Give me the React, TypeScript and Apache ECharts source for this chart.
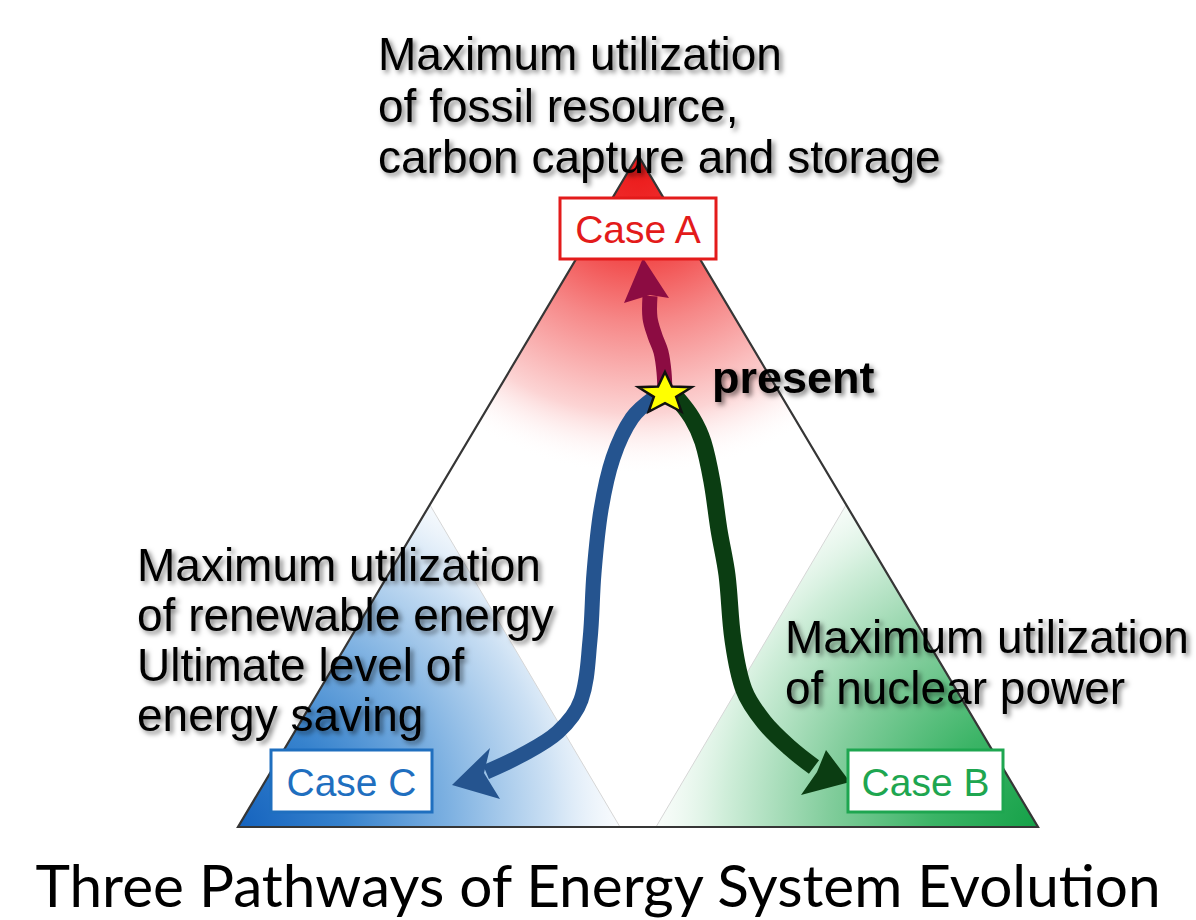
import React, { useEffect, useRef } from "react";
import * as echarts from "echarts";

// ---- Diagram content ----
const TOP_LINES = ["Maximum utilization", "of fossil resource,", "carbon capture and storage"];
const LEFT_LINES = ["Maximum utilization", "of renewable energy", "Ultimate level of", "energy saving"];
const RIGHT_LINES = ["Maximum utilization", "of nuclear power"];
const CASE_LABELS = ["Case A", "Case B", "Case C"];
const PRESENT_LABEL = "present";
const TITLE = "Three Pathways of Energy System Evolution";

const CASE_COLORS = ["#e31b1b", "#1ea650", "#1f6fbf"];

export default function App() {
  const ref = useRef<HTMLDivElement>(null);

  useEffect(() => {
    document.body.style.margin = "0";
    const chart = echarts.init(ref.current!, null, { renderer: "svg" });

    const A: [number, number] = [638, 155];
    const L: [number, number] = [238, 827];
    const R: [number, number] = [1038, 827];

    const shadow = {
      textShadowColor: "rgba(0,0,0,0.5)",
      textShadowBlur: 5,
      textShadowOffsetX: 3,
      textShadowOffsetY: 3,
    };
    const bigFont = '46px "Liberation Sans", Arial, sans-serif';

    const elements: any[] = [];

    // base triangle
    elements.push({
      type: "polygon",
      z: 0,
      shape: { points: [A, L, R] },
      style: { fill: "#ffffff" },
    });
    // red region
    elements.push({
      type: "polygon",
      z: 1,
      shape: { points: [A, [433, 500], [843, 500]] },
      style: {
        fill: new echarts.graphic.RadialGradient(638, 170, 305, [
          { offset: 0, color: "#ec1a1a" },
          { offset: 0.22, color: "#f03636" },
          { offset: 0.5, color: "#f68888" },
          { offset: 0.8, color: "#fcd4d4" },
          { offset: 1, color: "rgba(255,255,255,0)" },
        ], true),
      },
    });
    // blue region
    elements.push({
      type: "polygon",
      z: 1,
      shape: { points: [L, [430, 505], [620, 827]] },
      style: {
        fill: new echarts.graphic.RadialGradient(238, 827, 420, [
          { offset: 0, color: "#1563be" },
          { offset: 0.25, color: "#3682cd" },
          { offset: 0.5, color: "#7cb0e1" },
          { offset: 0.75, color: "#cde1f4" },
          { offset: 1, color: "rgba(255,255,255,0)" },
        ], true),
      },
    });
    // green region
    elements.push({
      type: "polygon",
      z: 1,
      shape: { points: [R, [846, 505], [656, 827]] },
      style: {
        fill: new echarts.graphic.RadialGradient(1038, 827, 420, [
          { offset: 0, color: "#15a148" },
          { offset: 0.25, color: "#3bb466" },
          { offset: 0.5, color: "#82cd9c" },
          { offset: 0.75, color: "#d0eeda" },
          { offset: 1, color: "rgba(255,255,255,0)" },
        ], true),
      },
    });
    // faint inner lines
    elements.push({
      type: "line", z: 2,
      shape: { x1: 430, y1: 505, x2: 620, y2: 827 },
      style: { stroke: "#d6d6d6", lineWidth: 1 },
    });
    elements.push({
      type: "line", z: 2,
      shape: { x1: 846, y1: 505, x2: 656, y2: 827 },
      style: { stroke: "#d6d6d6", lineWidth: 1 },
    });
    // outline
    elements.push({
      type: "polygon",
      z: 3,
      shape: { points: [A, L, R] },
      style: { fill: null, stroke: "#363636", lineWidth: 2.2, lineJoin: "miter" },
    });

    // arrows
    const shaft = (points: number[][], color: string, w: number) => ({
      type: "polyline",
      z: 5,
      shape: { points, smooth: 0.35 },
      style: { stroke: color, lineWidth: w, fill: null, lineJoin: "round" },
    });
    const head = (points: number[][], color: string) => ({
      type: "polygon",
      z: 5,
      shape: { points },
      style: { fill: color },
    });
    const RED = "#8c0c42";
    const BLUE = "#25548f";
    const GREEN = "#0b3d12";
    elements.push(shaft([[665, 395], [664, 372], [661, 352], [655, 336], [650, 318], [650, 296]], RED, 15));
    elements.push(head([[643, 258], [624, 303], [650, 295], [669, 298]], RED));

    elements.push(shaft([[655, 397], [632, 418], [613, 458], [601, 510], [594, 573], [590, 640], [581, 700], [558, 732], [520, 756], [486, 772]], BLUE, 15));
    elements.push(head([[452, 785], [490, 748], [484, 773], [500, 799]], BLUE));

    elements.push(shaft([[676, 397], [692, 418], [703, 442], [712, 482], [719, 530], [727, 575], [733, 640], [744, 690], [764, 722], [790, 748], [814, 767]], GREEN, 17));
    elements.push(head([[850, 782], [801, 795], [817, 772], [826, 750]], GREEN));

    // star
    const cx = 665, cy = 394, rx = 28, ry = 22, inner = 0.42;
    const starPts: number[][] = [];
    for (let i = 0; i < 10; i++) {
      const ang = -Math.PI / 2 + (i * Math.PI) / 5;
      const f = i % 2 === 0 ? 1 : inner;
      starPts.push([cx + rx * f * Math.cos(ang), cy + ry * f * Math.sin(ang)]);
    }
    elements.push({
      type: "polygon",
      z: 6,
      shape: { points: starPts },
      style: { fill: "#ffff00", stroke: "#111", lineWidth: 2.5, lineJoin: "miter" },
    });

    // case boxes
    const boxes = [
      { x: 560, y: 198, w: 156, h: 61 },
      { x: 848, y: 750, w: 155, h: 62 },
      { x: 271, y: 750, w: 161, h: 62 },
    ];
    boxes.forEach((b, i) => {
      elements.push({
        type: "rect",
        z: 7,
        shape: { x: b.x, y: b.y, width: b.w, height: b.h },
        style: { fill: "#ffffff", stroke: CASE_COLORS[i], lineWidth: 3 },
      });
      elements.push({
        type: "text",
        z: 8,
        x: b.x + b.w / 2,
        y: b.y + b.h / 2 + 1,
        style: {
          text: CASE_LABELS[i],
          fill: CASE_COLORS[i],
          font: '39px "Liberation Sans", Arial, sans-serif',
          textAlign: "center",
          textVerticalAlign: "middle",
        },
      });
    });

    // descriptive texts
    const addLines = (lines: string[], x: number, y0: number, dy: number) => {
      lines.forEach((t, i) => {
        elements.push({
          type: "text",
          z: 10,
          x,
          y: y0 + i * dy,
          style: {
            text: t,
            fill: "#000",
            font: bigFont,
            textAlign: "left",
            textVerticalAlign: "middle",
            ...shadow,
          },
        });
      });
    };
    addLines(TOP_LINES, 378, 54, 51.5);
    addLines(LEFT_LINES, 137, 565, 50);
    addLines(RIGHT_LINES, 785, 637, 51);

    elements.push({
      type: "text",
      z: 10,
      x: 712,
      y: 377,
      style: {
        text: PRESENT_LABEL,
        fill: "#000",
        font: 'bold 45px "Liberation Sans", Arial, sans-serif',
        textAlign: "left",
        textVerticalAlign: "middle",
        ...shadow,
      },
    });

    elements.push({
      type: "text",
      z: 10,
      x: 598,
      y: 884,
      style: {
        text: TITLE,
        fill: "#000",
        font: '58.5px Lato, "Open Sans", sans-serif',
        textAlign: "center",
        textVerticalAlign: "middle",
      },
    });

    chart.setOption({ animation: false, graphic: { elements } });
    return () => chart.dispose();
  }, []);

  return <div ref={ref} style={{ width: 1196, height: 920 }} />;
}
